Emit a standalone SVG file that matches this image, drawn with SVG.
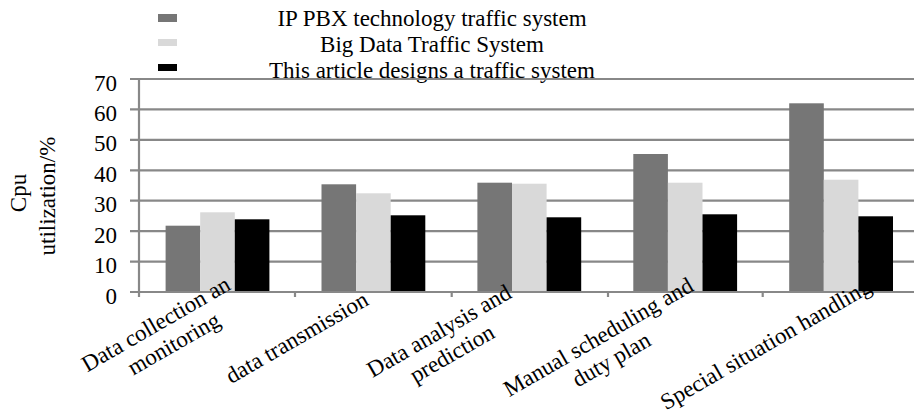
<svg xmlns="http://www.w3.org/2000/svg" width="914" height="416" viewBox="0 0 914 416">
<style>
text{font-family:"Liberation Serif","Times New Roman",serif;font-size:23px;fill:#000}
.grid{stroke:#888888;stroke-width:2.2;fill:none}
.s1{fill:#767676}
.s2{fill:#d9d9d9}
.s3{fill:#000}
.yt{text-anchor:end}
.lg{text-anchor:middle}
.e{text-anchor:end}
.m{text-anchor:middle}
</style>
<rect width="914" height="416" fill="#fff"/>
<g id="legend">
<rect class="s1" x="158" y="14" width="19" height="8"/>
<rect class="s2" x="158" y="39" width="19" height="7"/>
<rect class="s3" x="158" y="64" width="19" height="7"/>
<text class="lg" x="432" y="26">IP PBX technology traffic system</text>
<text class="lg" x="432" y="51.5">Big Data Traffic System</text>
<text class="lg" x="432" y="78">This article designs a traffic system</text>
</g>
<g id="y-axis-title">
<text class="m" transform="translate(26,193) rotate(-90)">Cpu</text>
<text class="m" transform="translate(55,196) rotate(-90)">utilization/%</text>
</g>
<g id="y-ticks">
<text class="yt" x="117" y="303.5">0</text>
<text class="yt" x="117" y="273.1">10</text>
<text class="yt" x="117" y="242.6">20</text>
<text class="yt" x="117" y="212.2">30</text>
<text class="yt" x="117" y="181.8">40</text>
<text class="yt" x="117" y="151.4">50</text>
<text class="yt" x="117" y="120.9">60</text>
<text class="yt" x="117" y="90.5">70</text>
</g>
<g id="gridlines">
<line class="grid" x1="130" y1="261.6" x2="914" y2="261.6"/>
<line class="grid" x1="130" y1="231.1" x2="914" y2="231.1"/>
<line class="grid" x1="130" y1="200.7" x2="914" y2="200.7"/>
<line class="grid" x1="130" y1="170.3" x2="914" y2="170.3"/>
<line class="grid" x1="130" y1="139.9" x2="914" y2="139.9"/>
<line class="grid" x1="130" y1="109.4" x2="914" y2="109.4"/>
<line class="grid" x1="130" y1="79" x2="914" y2="79"/>
</g>
<g id="bars">
<g id="cat-data-collection">
<rect class="s1" x="165.6" y="225.7" width="34.6" height="66.3"/>
<rect class="s2" x="200.2" y="212.3" width="34.6" height="79.7"/>
<rect class="s3" x="234.8" y="219.3" width="34.6" height="72.7"/>
</g>
<g id="cat-data-transmission">
<rect class="s1" x="321.5" y="184.3" width="34.6" height="107.7"/>
<rect class="s2" x="356.1" y="193.3" width="34.6" height="98.7"/>
<rect class="s3" x="390.7" y="215.3" width="34.6" height="76.7"/>
</g>
<g id="cat-data-analysis">
<rect class="s1" x="477.4" y="182.7" width="34.6" height="109.3"/>
<rect class="s2" x="512" y="183.7" width="34.6" height="108.3"/>
<rect class="s3" x="546.6" y="217.3" width="34.6" height="74.7"/>
</g>
<g id="cat-manual-scheduling">
<rect class="s1" x="633.3" y="154" width="34.6" height="138"/>
<rect class="s2" x="667.9" y="182.7" width="34.6" height="109.3"/>
<rect class="s3" x="702.5" y="214.3" width="34.6" height="77.7"/>
</g>
<g id="cat-special-situation">
<rect class="s1" x="789.2" y="103.3" width="34.6" height="188.7"/>
<rect class="s2" x="823.8" y="179.7" width="34.6" height="112.3"/>
<rect class="s3" x="858.4" y="216.3" width="34.6" height="75.7"/>
</g>
</g>
<g id="axes">
<line class="grid" x1="130" y1="292" x2="914" y2="292"/>
<line class="grid" x1="139" y1="78" x2="139" y2="297"/>
<line class="grid" x1="295" y1="292" x2="295" y2="297"/>
<line class="grid" x1="451.7" y1="292" x2="451.7" y2="297"/>
<line class="grid" x1="608" y1="292" x2="608" y2="297"/>
<line class="grid" x1="762.7" y1="292" x2="762.7" y2="297"/>
</g>
<g id="x-labels">
<g id="lbl-1" transform="translate(242,283) rotate(-30)">
<text class="e" x="-11.5" y="0">Data collection an</text>
<text class="m" x="-89.4" y="26">monitoring</text>
</g>
<g id="lbl-2" transform="translate(370,304) rotate(-30)">
<text class="e" x="0" y="0">data transmission</text>
</g>
<g id="lbl-3" transform="translate(513,297) rotate(-30)">
<text class="e" x="0" y="0">Data analysis and</text>
<text class="m" x="-81.1" y="26">prediction</text>
</g>
<g id="lbl-4" transform="translate(695,290) rotate(-30)">
<text class="e" x="0" y="0">Manual scheduling and</text>
<text class="m" x="-107.3" y="26">duty plan</text>
</g>
<g id="lbl-5" transform="translate(873,291) rotate(-30)">
<text class="e" x="0" y="0">Special situation handling</text>
</g>
</g>
</svg>
